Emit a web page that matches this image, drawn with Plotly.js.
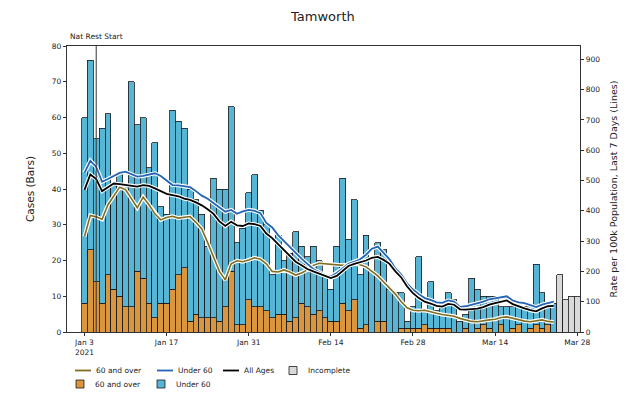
<!DOCTYPE html>
<html>
<head>
<meta charset="utf-8">
<script src="https://cdn.plot.ly/plotly-3.0.1.min.js"></script>
<style>html,body{margin:0;padding:0;background:#fff;}#chart{width:627px;height:395px;}</style>
</head>
<body>
<div id="chart"></div>
<script>
// Daily cases, 3 Jan 2021 onward (complete days)
const startDate = '2021-01-03';
const totalCases = [60,76,54,57,61,41,44,41,70,58,60,46,53,35,33,62,59,57,40,37,33,24,43,40,40,63,
  25,29,39,44,34,30,16,27,20,22,28,24,21,24,20,16,12,24,43,26,37,16,27,17,25,23,12,11,11,3,7,21,6,14,
  6,7,11,9,3,5,15,12,10,10,10,7,7,7,7,7,7,19,11,8,8];
const cases60plus = [8,23,14,8,16,12,10,7,7,17,15,8,4,8,8,12,16,18,3,5,4,4,4,3,7,17,
  2,2,9,7,7,6,4,5,5,3,4,8,7,5,6,4,3,3,8,6,9,1,2,0,3,3,0,0,1,1,1,1,2,1,
  1,1,1,0,0,1,0,1,2,1,0,2,0,1,2,0,1,2,1,2,0];
// Incomplete days (25-28 Mar)
const incompleteCases = [16,9,10,10];
// Rates per 100k, last 7 days
const rate60plus = [315,385,380,372,420,450,478,470,440,410,445,420,390,370,378,382,376,378,381,362,340,295,245,200,172,225,
  235,232,238,245,240,225,200,198,205,198,188,195,205,220,227,225,222,222,220,222,225,222,215,200,185,165,145,125,100,80,
  72,70,72,66,62,58,55,52,45,40,35,34,38,40,42,48,50,45,40,36,34,38,40,35,33];
const rateUnder60 = [525,565,545,496,505,515,525,529,520,513,515,520,524,515,500,485,484,480,478,465,450,440,425,410,397,403,
  390,398,403,400,392,360,345,320,300,280,262,242,225,208,198,188,183,195,210,225,232,240,255,275,282,262,240,210,190,160,
  140,125,112,106,98,96,104,100,83,85,90,95,100,108,112,116,118,104,98,95,88,82,90,96,100];
const rateAll = [469,520,505,465,478,490,488,485,483,480,485,482,474,465,456,452,448,440,436,428,418,405,390,365,350,364,
  352,350,358,356,350,325,310,290,270,250,232,220,208,200,192,185,178,185,200,218,225,230,236,245,248,238,225,200,180,150,
  128,112,100,94,86,84,93,90,75,74,76,77,82,90,95,100,104,92,84,78,72,68,78,85,86];
const xTickVals = ['2021-01-03','2021-01-17','2021-01-31','2021-02-14','2021-02-28','2021-03-14','2021-03-28'];
const xTickText = ['Jan 3<br>2021','Jan 17','Jan 31','Feb 14','Feb 28','Mar 14','Mar 28'];
const restStart = '2021-01-05';

function dayList(start, n, offset) {
  const out = [];
  const d0 = new Date(start + 'T00:00:00Z');
  for (let i = 0; i < n; i++) {
    const d = new Date(d0.getTime() + (i + (offset||0)) * 86400000);
    out.push(d.toISOString().slice(0,10));
  }
  return out;
}
const days = dayList(startDate, totalCases.length, 0);
const incDays = dayList(startDate, incompleteCases.length, totalCases.length);
const casesUnder60 = totalCases.map((t,i) => t - cases60plus[i]);

const FONT = 'DejaVu Sans, sans-serif';
const edge = {color:'#1a1a1a', width:0.8};
const cOrange = '#d9963f', cBlue = '#57b6d6', cGrey = '#d9d9d9';
const cOlive = '#7f6e22', cLineBlue = '#2364b4', cBlack = '#000000';

function halo(y) { return {x: days, y: y, yaxis:'y2', type:'scatter', mode:'lines', line:{color:'#ffffff', width:4}, showlegend:false, hoverinfo:'skip'}; }

const traces = [
  {x: days, y: cases60plus, type:'bar', name:'60 and over', marker:{color:cOrange, line:edge}, showlegend:false},
  {x: days, y: casesUnder60, type:'bar', name:'Under 60', marker:{color:cBlue, line:edge}, showlegend:false},
  halo(rate60plus),
  {x: days, y: rate60plus, yaxis:'y2', type:'scatter', mode:'lines', name:'60 and over', line:{color:cOlive, width:1.6}, showlegend:false},
  halo(rateUnder60),
  {x: days, y: rateUnder60, yaxis:'y2', type:'scatter', mode:'lines', name:'Under 60', line:{color:cLineBlue, width:1.8}, showlegend:false},
  halo(rateAll),
  {x: days, y: rateAll, yaxis:'y2', type:'scatter', mode:'lines', name:'All Ages', line:{color:cBlack, width:1.8}, showlegend:false},
  {x: incDays, y: incompleteCases, type:'bar', name:'Incomplete', marker:{color:cGrey, line:edge}, showlegend:false},
];

// plot area in pixels: left 67, right 580, top 46, bottom 332
const PL = 67, PR = 580, PT = 46, PB = 332;
const X = px => (px - PL) / (PR - PL);
const Y = py => (PB - py) / (PB - PT);

const legendItems = [
  {kind:'line', color:cOlive, x:75, y:370.5, label:'60 and over'},
  {kind:'line', color:cLineBlue, x:157, y:370.5, label:'Under 60'},
  {kind:'line', color:cBlack, x:223, y:370.5, label:'All Ages'},
  {kind:'box', color:cGrey, x:289, y:370.5, label:'Incomplete'},
  {kind:'box', color:cOrange, x:76, y:384, label:'60 and over'},
  {kind:'box', color:cBlue, x:157, y:384, label:'Under 60'},
];
const legShapes = [], legAnn = [];
legendItems.forEach(it => {
  if (it.kind === 'line') {
    legShapes.push({type:'line', xref:'paper', yref:'paper', x0:X(it.x), x1:X(it.x+16), y0:Y(it.y), y1:Y(it.y),
      line:{color:it.color, width:1.8}});
  } else {
    legShapes.push({type:'rect', xref:'paper', yref:'paper', x0:X(it.x), x1:X(it.x+8), y0:Y(it.y+4), y1:Y(it.y-4),
      fillcolor:it.color, line:{color:'#1a1a1a', width:0.8}});
  }
  legAnn.push({text:it.label, xref:'paper', yref:'paper', x:X(it.x + (it.kind==='line'?19:17)), y:Y(it.y), xanchor:'left', yanchor:'middle',
    showarrow:false, font:{family:FONT, size:7.5, color:'#222'}});
});

const axisCommon = {showgrid:false, zeroline:false, showline:true, linecolor:'#000', linewidth:0.8,
  ticks:'outside', ticklen:3.5, tickwidth:0.8, tickcolor:'#000', tickfont:{family:FONT, size:7.5, color:'#222'}};

const layout = {
  width:627, height:395,
  margin:{l:PL, r:627-PR, t:PT, b:395-PB},
  paper_bgcolor:'#fff', plot_bgcolor:'#fff',
  font:{family:FONT, color:'#222'},
  barmode:'stack', bargap:0, showlegend:false,
  title:{text:'Tamworth', font:{family:FONT, size:13, color:'#222'}, x:0.515, xanchor:'center', y:0.958, yanchor:'middle'},
  xaxis: Object.assign({}, axisCommon, {type:'date', range:['2020-12-31 00:30','2021-03-28 11:15'],
    tickvals:xTickVals, ticktext:xTickText, mirror:true}),
  yaxis: Object.assign({}, axisCommon, {range:[0,80], dtick:10,
    title:{text:'Cases (Bars)', font:{family:FONT, size:10.5, color:'#222'}, standoff:14}}),
  yaxis2: Object.assign({}, axisCommon, {overlaying:'y', side:'right', range:[0,944], tickvals:[0,100,200,300,400,500,600,700,800,900],
    title:{text:'Rate per 100k Population, Last 7 Days (Lines)', font:{family:FONT, size:9.5, color:'#222'}, standoff:10}}),
  shapes:[{type:'line', xref:'x', yref:'paper', x0:restStart, x1:restStart, y0:0, y1:1, line:{color:'#333', width:1}}].concat(legShapes),
  annotations:[{text:'Nat Rest Start', xref:'x', yref:'paper', x:restStart, y:1.0, yanchor:'bottom', xanchor:'center', yshift:3,
    showarrow:false, font:{family:FONT, size:7.5, color:'#222'}}].concat(legAnn),
};

Plotly.newPlot('chart', traces, layout, {displayModeBar:false, staticPlot:true});
</script>
</body>
</html>
